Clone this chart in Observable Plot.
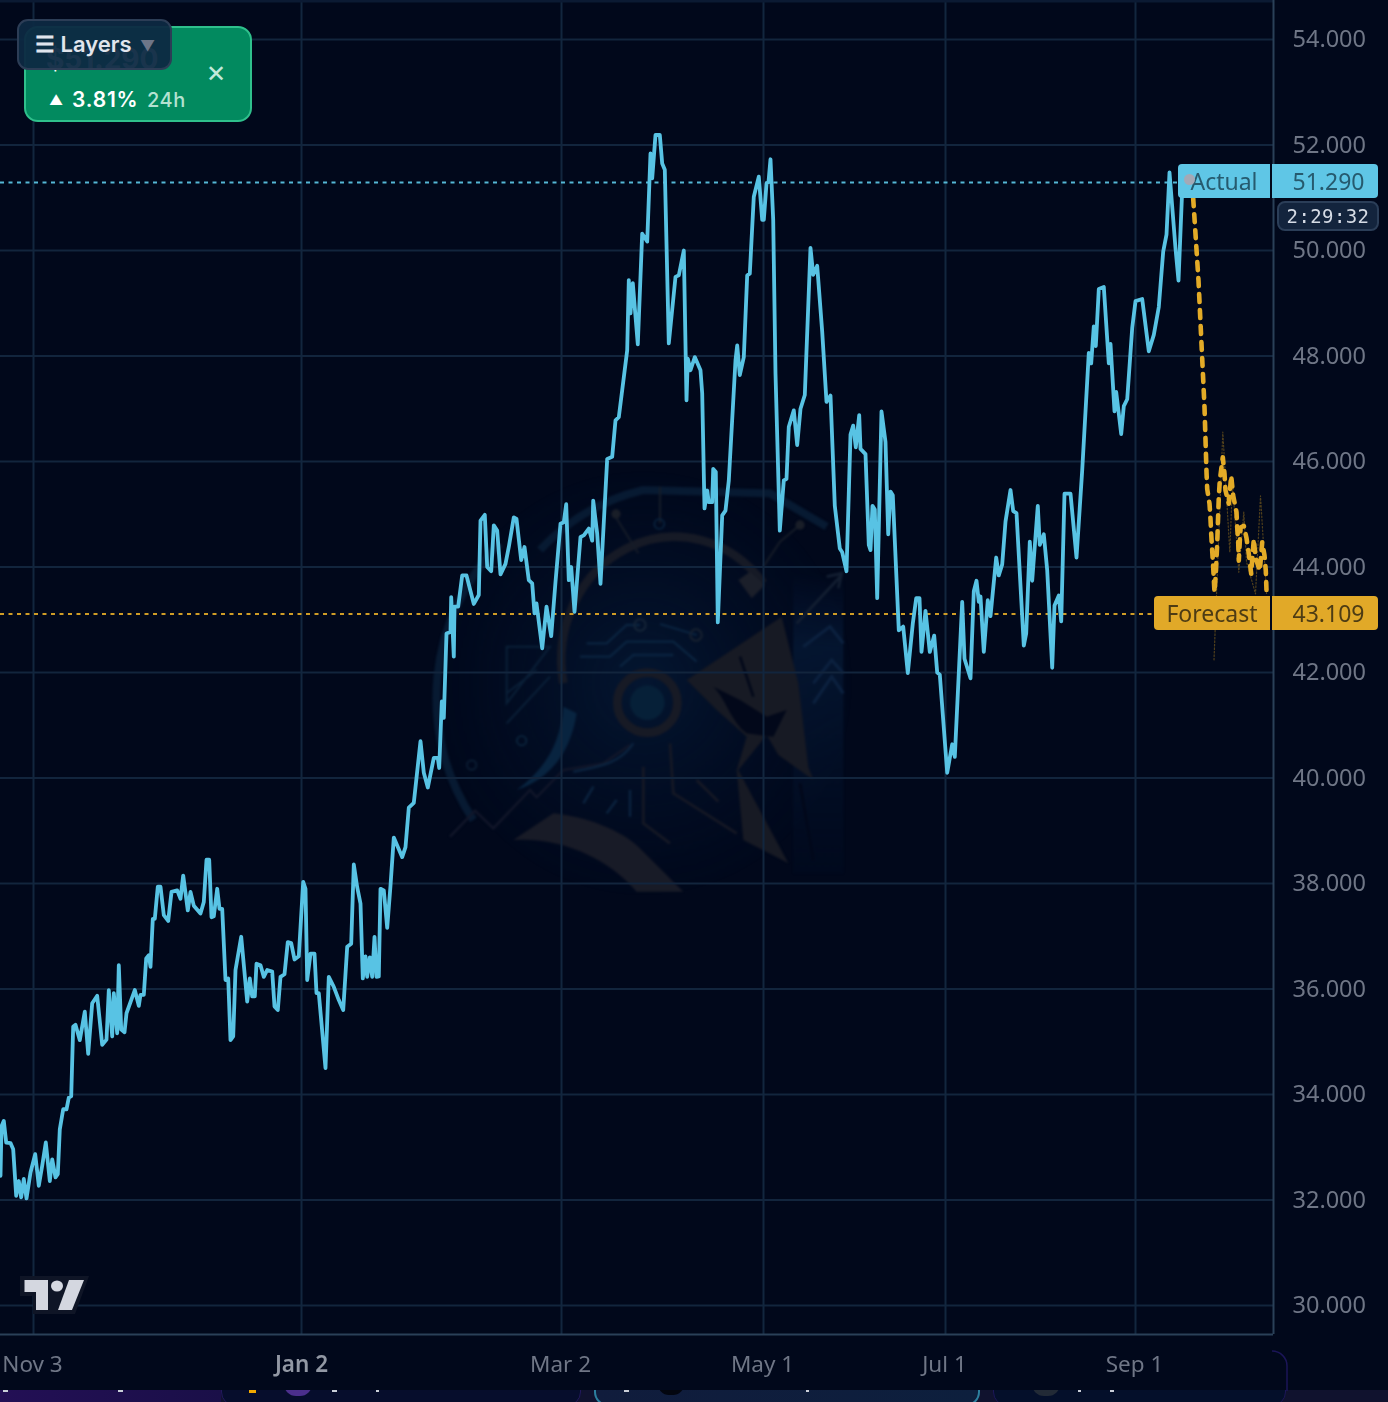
<!DOCTYPE html>
<html>
<head>
<meta charset="utf-8">
<script src="https://cdn.jsdelivr.net/npm/d3@7"></script>
<script src="https://cdn.jsdelivr.net/npm/@observablehq/plot@0.6"></script>
<style>
html,body{margin:0;padding:0;background:#01081b;}
#stage{position:relative;width:1388px;height:1402px;overflow:hidden;background:#01081b;font-family:"Noto Sans",sans-serif;}
#stage>*{position:absolute;}
#watermark{left:430px;top:470px;width:420px;height:430px;filter:blur(.8px);}
#chart{left:0;top:0;}
#chart svg{display:block;filter:blur(.55px);}
.tag{box-sizing:border-box;display:flex;align-items:center;justify-content:center;font-size:23px;filter:blur(.4px);}
#strip{left:0;top:1390px;width:1388px;height:12px;overflow:hidden;background:#10122e;}
#strip>*{position:absolute;}
.card{top:-14px;height:30px;box-sizing:border-box;border-radius:14px;}
.tick{top:0;height:2px;width:5px;background:#c9ced8;}
</style>
</head>
<body>
<div id="stage">
<svg id="watermark" viewBox="0 0 1260 1290" fill="none">
  <defs>
    <radialGradient id="glow" cx=".5" cy=".5" r=".55">
      <stop offset="0" stop-color="#051a36" stop-opacity=".8"/>
      <stop offset="1" stop-color="#03102a" stop-opacity="0"/>
    </radialGradient>
    <linearGradient id="band" x1="0" y1="0" x2="0" y2="1">
      <stop offset="0" stop-color="#06183a" stop-opacity="0"/>
      <stop offset=".25" stop-color="#061a36" stop-opacity=".75"/>
      <stop offset="1" stop-color="#03112a" stop-opacity=".2"/>
    </linearGradient>
  </defs>
  <ellipse cx="640" cy="640" rx="620" ry="630" fill="url(#glow)"/>
  <rect x="1090" y="310" width="150" height="900" fill="url(#band)"/>
  <path d="M130 1050 A660 660 0 0 1 210 220 M330 240 A620 620 0 0 1 640 60 L1020 70 1190 170" stroke="#071a32" stroke-width="24"/>
  <path d="M400 640 A340 370 0 0 1 1000 340" stroke="#161a26" stroke-width="26"/>
  <path d="M925 330 L960 305 1005 345 965 385Z" fill="#1b1f2a"/>
  <circle cx="652" cy="698" r="90" stroke="#171a25" stroke-width="26"/>
  <circle cx="652" cy="698" r="52" fill="#062038"/>
  <path d="M770 630 L1055 440 1105 640 1135 890 1150 930 1045 855 1010 795 925 900 1075 1180 940 1110 920 900 950 800 860 720Z" fill="#171a24"/>
  <path d="M850 650 C890 690 900 750 950 790 L1030 800 1070 720 1010 740 930 690Z" fill="#02081a"/>
  <path d="M930 560 L970 680 M1110 940 L1150 1170" stroke="#02081a" stroke-width="8"/>
  <path d="M400 710 L440 730 C420 860 350 930 260 960 C340 900 390 830 400 710Z" fill="#082440"/>
  <path d="M250 1110 L370 1030 C470 1040 570 1080 625 1130 L760 1265 L620 1265 C540 1170 400 1100 250 1110Z" fill="#181b27"/>
  <path d="M60 1100 L135 1022 190 1075 300 960 320 982 400 900 520 880 600 825" stroke="#12172a" stroke-width="7"/>
  <path d="M470 520 L530 520 590 465 630 465 M450 560 L540 560 590 515 730 515 800 575 M570 590 L610 555 730 555 M690 462 L800 495" stroke="#0a2440" stroke-width="7"/>
  <circle cx="630" cy="465" r="17" stroke="#152538" stroke-width="6"/>
  <circle cx="798" cy="495" r="17" stroke="#182230" stroke-width="6"/>
  <circle cx="275" cy="812" r="14" stroke="#0c2840" stroke-width="5"/>
  <circle cx="125" cy="885" r="14" stroke="#0c2036" stroke-width="5"/>
  <path d="M230 760 L360 620 M230 670 L320 600 M230 530 L360 530 230 700Z" stroke="#0a2038" stroke-width="6"/>
  <path d="M640 890 L640 1060 720 1120 M720 820 L730 970 920 1090 M800 930 L865 995" stroke="#161925" stroke-width="8"/>
  <path d="M430 905 C510 890 570 880 610 820 M460 1000 L490 950 M560 990 L530 1030 M600 960 L600 1040" stroke="#0b2440" stroke-width="7"/>
  <path d="M1150 700 L1205 620 1240 670 M1120 530 L1200 470 1240 520 M1150 640 L1205 570 1240 610" stroke="#0c2240" stroke-width="9"/>
  <path d="M1100 460 L1235 315 M1190 320 L1235 310 1225 355" stroke="#131f32" stroke-width="8"/>
  <path d="M550 130 L625 250 M690 50 L690 160 M1110 165 L1050 215 1000 290" stroke="#151c28" stroke-width="6"/>
  <circle cx="558" cy="132" r="14" fill="#191e28"/>
  <circle cx="1110" cy="165" r="14" fill="#191e28"/>
  <circle cx="688" cy="162" r="15" stroke="#0a2440" stroke-width="5"/>
</svg>
<div id="chart"></div>

<!-- bottom strip of page cards -->
<div id="strip">
  <div style="left:0;top:0;width:221px;height:12px;background:linear-gradient(90deg,#230f55,#1a0f48)"></div>
  <div class="card" style="left:221px;width:360px;background:#060d2c;border:1px solid #22185c"></div>
  <div class="card" style="left:594px;width:386px;background:linear-gradient(90deg,#101c3c,#0d1f3d);border:2px solid #2c7f9e"></div>
  <div class="card" style="left:993px;width:293px;background:#040f2a;border:1px solid #1c1658"></div>
  <div style="left:284px;top:-6px;width:28px;height:12px;border-radius:0 0 14px 14px;background:#4b2f8c"></div>
  <div style="left:1032px;top:-6px;width:28px;height:12px;border-radius:0 0 14px 14px;background:#222a36"></div>
  <div style="left:658px;top:-6px;width:26px;height:11px;border-radius:0 0 13px 13px;background:#03060f"></div>
  <div style="left:249px;top:0;width:7px;height:3px;background:#f2a900"></div>
  <div class="tick" style="left:3px"></div><div class="tick" style="left:118px"></div><div class="tick" style="left:332px"></div>
  <div class="tick" style="left:376px;width:3px"></div><div class="tick" style="left:624px"></div><div class="tick" style="left:806px;width:3px"></div>
  <div class="tick" style="left:1078px;width:3px"></div><div class="tick" style="left:1110px;width:4px"></div>
</div>
<svg style="left:1260px;top:1345px" width="40" height="46" fill="none"><path d="M12 6 A15 15 0 0 1 27 21 V46" stroke="#1b1558" stroke-width="1.5"/></svg>

<!-- TradingView mark -->
<svg style="left:0;top:1260px" width="110" height="70">
  <path d="M20 16H89L75 54H33V36H20Z" fill="#0f1526"/>
  <path d="M24.5 20H48V50H36V32H24.500Z" fill="#d4d7e0"/>
  <ellipse cx="57" cy="26" rx="6" ry="5.500" fill="#d4d7e0"/>
  <path d="M69 20H84L72 50H58Z" fill="#d4d7e0"/>
</svg>

<!-- price tags -->
<div class="tag" style="left:1178px;top:164px;width:92px;height:34px;background:#5fc6e6;color:#265a6e;border-radius:4px 0 0 4px;">Actual</div>
<div class="tag" style="left:1272px;top:164px;width:106px;height:34px;background:#5fc6e6;color:#265a6e;border-radius:0 4px 4px 0;padding-left:7px">51.290</div>
<div style="left:1184px;top:174px;width:11px;height:11px;border-radius:50%;background:#a4a9b6"></div>
<div class="tag" style="left:1277px;top:201px;width:102px;height:30px;background:#13243d;border:2px solid #2b3e58;border-radius:8px;color:#d5dbe5;font-family:'DejaVu Sans Mono',monospace;font-size:19px;letter-spacing:.4px">2:29:32</div>
<div class="tag" style="left:1154px;top:596px;width:116px;height:34px;background:#e1a928;color:#4d3c14;border-radius:4px 0 0 4px;">Forecast</div>
<div class="tag" style="left:1272px;top:596px;width:106px;height:34px;background:#e1a928;color:#4d3c14;border-radius:0 4px 4px 0;padding-left:7px">43.109</div>

<!-- ticker card and layers button -->
<div style="left:24px;top:26px;width:228px;height:96px;box-sizing:border-box;background:#028a5f;border:2px solid #2fc08c;border-radius:14px"></div>
<div style="left:46px;top:42px;font:700 28px Inter,sans-serif;color:#fff;white-space:nowrap">$51.290</div>
<div style="left:49px;top:91px;font:400 14px Inter,sans-serif;color:#fff;white-space:nowrap">▲</div>
<div style="left:72px;top:87px;font:600 21px Inter,sans-serif;color:#fff;letter-spacing:.8px;white-space:nowrap">3.81%</div>
<div style="left:147px;top:88px;font:500 20px Inter,sans-serif;color:#b3e2d1;letter-spacing:.6px;white-space:nowrap">24h</div>
<div style="left:206px;top:61px;font:400 24px Inter,sans-serif;color:#c2e9da;line-height:26px">✕</div>
<div style="left:17px;top:19px;width:155px;height:51px;box-sizing:border-box;background:rgba(13,41,66,.95);border:2px solid #2c3d56;border-radius:11px"></div>
<div style="left:35px;top:31px;font:600 22px Inter,sans-serif;color:#e0e5ed;white-space:nowrap">☰ Layers</div>
<div style="left:140px;top:36px;font:400 15px Inter,sans-serif;color:#6d7688">▼</div>
</div>

<script>
const barIndex = [0,1,3.3,5.7,10,12.7,15.7,18.3,20.7,23.3,26,30,34.7,38.3,41.7,45.3,49.3,51.7,55,57.3,59.3,62.7,66,68.3,70.7,72.7,75,79.3,84.3,87.7,91.7,96.7,101.7,106,108.3,111.7,113.3,116.7,118.3,120.7,124,126,134.3,138.3,140,143.3,145.7,148.3,150,152.3,154.3,157.3,160,163.3,167.7,171,176.7,180,182.7,187.3,190,193.3,200,203.3,206,208.7,211,213.3,216.7,219,221.7,225,227.7,230,232.7,235,240.7,246.7,249.3,251.7,254.3,256,260,263.3,266.7,271.7,274,277.3,280,284,287.3,290.7,294,298.3,302.7,305,306.7,310,314,316,318.3,325,328.3,333.3,338.3,342.7,346.7,350.7,353.3,356.7,360,362.3,365,366.7,369.3,371.7,374,376,378.3,380,383.3,386.7,390,393.3,396.7,401.7,405,408.3,413.3,420,423.3,427.3,433.3,437.3,438.7,441.3,443.3,446,450,450.7,453.3,454,457.7,461.7,466,473.3,478.3,480,484.3,486.7,490.7,493.3,496.7,500,505,508.3,513.3,516,520.7,524,528.3,531.7,534,536,541.7,546,550.7,555,560,563.3,565.7,568.3,570.7,574,580,583.3,588.3,591.7,592.7,596.7,600,606.7,611.7,615,618.3,626.7,628.3,630,632.3,637.3,641.7,646.7,650,651.7,655,659.3,661.7,664.3,668.3,675,678.3,683.3,686,687.3,690,694.3,700,701.7,704,706.7,708.3,711.7,712.7,715.3,717.3,721.7,725,728.3,735,736.7,739.3,743.3,746.7,749.3,753.3,758.3,761.7,763.3,766,768,770,772.7,775,779.3,783.3,786,788.3,793.3,796.7,800,804.3,810,812.7,816.7,821.7,826,830,834.3,839.3,841.7,846,850,852.7,855.3,858.7,860,865,868.3,870,872,874.3,876.7,881,885,887.7,890,892.3,898.3,902.7,907.3,912.3,915.7,919,921,925,929.3,933.7,936.7,939.3,946.7,951.7,954.3,961.7,964,970,973.3,976,978.3,980,983.3,987.3,990,995.7,998.3,1001.7,1005,1010,1012.7,1016,1023.3,1025.7,1029.3,1031.7,1037.3,1039.3,1043.3,1046.7,1051.7,1054,1058.3,1060.7,1064,1070,1076,1081.7,1088.3,1090.7,1093.3,1095.3,1098.3,1103.3,1108.3,1110,1114,1115.7,1120.7,1123.3,1126.7,1131.7,1135,1141.7,1148.3,1153.3,1158.3,1162.7,1166,1169,1175,1178,1182];
const actualPrice = [32.46,33.40,33.50,33.09,33.08,32.96,32.08,32.36,32.05,32.40,32.03,32.52,32.87,32.27,32.65,33.09,32.36,32.77,32.43,32.49,33.34,33.72,33.72,33.94,33.97,35.29,35.32,35.03,35.57,34.77,35.73,35.87,34.94,35.04,35.98,35.10,35.92,35.16,36.45,35.23,35.18,35.54,35.98,35.68,35.89,35.89,36.58,36.64,36.42,37.33,37.33,37.94,37.94,37.40,37.29,37.84,37.87,37.71,38.15,37.49,37.84,37.58,37.43,37.65,38.45,38.45,37.36,37.38,37.90,37.52,37.52,36.17,36.20,35.03,35.10,36.36,36.99,35.76,36.20,35.86,35.86,36.48,36.45,36.23,36.36,36.33,35.67,35.60,36.23,36.28,36.89,36.87,36.56,36.62,38.03,37.90,36.17,36.67,36.67,35.92,35.92,34.50,36.23,36.04,35.79,35.60,36.80,36.86,38.36,37.93,37.62,36.20,36.62,36.23,36.60,36.23,36.99,36.23,36.24,37.90,37.87,37.16,37.96,38.87,38.72,38.50,38.69,39.44,39.53,40.70,40.10,39.82,40.38,40.38,40.19,41.45,41.14,42.74,42.77,43.43,42.30,43.25,43.25,43.84,43.84,43.30,43.47,44.88,44.99,44.00,43.92,44.79,44.69,43.86,44.06,44.38,44.94,44.91,44.13,44.38,43.75,43.69,43.12,43.31,42.46,43.25,42.69,43.72,44.82,44.85,45.19,43.75,44.00,43.15,44.57,44.60,44.73,44.50,45.26,44.63,43.68,46.05,46.09,46.78,46.84,48.11,49.44,48.81,49.38,48.22,50.32,50.17,51.84,51.37,52.19,52.19,51.65,51.53,48.24,49.50,49.53,50.00,47.16,47.95,47.73,47.98,47.73,47.29,45.11,45.45,45.23,45.23,45.86,45.80,42.95,44.98,45.07,45.64,47.92,48.20,47.64,47.98,49.53,49.56,51.02,51.40,50.58,50.58,51.27,51.30,51.73,50.58,47.67,44.69,45.64,45.67,46.66,46.97,46.31,47.00,47.26,50.05,49.54,49.71,48.46,47.13,47.25,45.16,44.35,44.28,43.92,46.51,46.68,46.27,46.88,46.24,46.14,44.42,44.32,45.16,45.09,43.41,46.95,46.37,44.62,45.43,45.36,42.80,42.87,41.99,42.93,43.41,43.41,42.39,43.17,42.39,42.70,42.00,41.96,40.10,40.64,40.40,43.34,42.26,41.89,43.54,43.74,43.34,43.44,42.39,43.37,43.07,44.18,43.84,44.05,44.86,45.46,45.06,45.02,42.51,42.74,44.48,43.74,45.16,44.42,44.62,43.94,42.09,43.27,43.46,42.97,45.39,45.39,44.18,45.83,48.06,47.86,48.56,48.19,49.27,49.31,47.86,48.23,46.95,47.32,46.52,47.05,47.18,48.53,49.04,49.08,48.09,48.40,48.93,49.98,50.30,51.48,50.04,49.43,51.29];

const forecastBar = [1190,1192.7,1198,1204,1206,1206.7,1209,1210,1210.7,1211.7,1212.7,1214,1215.3,1216.7,1217.7,1218.3,1219.3,1222.3,1224,1225,1228.3,1230.7,1232.7,1236,1236.7,1237.7,1238.3,1240,1243.3,1246,1248.3,1250.7,1253.3,1255,1259.3,1261.7,1264,1265.3,1266];
const forecastPrice = [51.29,50.99,49.43,47.03,45.80,45.48,45.20,44.91,44.63,44.31,44.00,43.52,43.87,44.44,45.00,45.32,45.64,46.08,45.77,45.45,45.20,45.73,45.35,45.04,44.75,44.47,44.12,44.75,44.78,44.55,44.25,43.87,44.53,44.18,43.93,44.47,44.22,43.93,43.55];
const rangeBar = [1213.5,1222.3,1229.3,1232,1238.3,1243.3,1246,1255,1260,1266];
const rangePrice = [42.24,46.56,44.28,45.60,43.90,45.04,44.10,43.49,45.35,43.50];

const priceTicks = [30,32,34,36,38,40,42,44,46,48,50,52,54];
const tickBars = [33,301,561,763,945,1135];
const tickLabels = ["Nov 3","Jan 2","Mar 2","May 1","Jul 1","Sep 1"];
const lastActual = 51.290;
const lastForecast = 43.109;

const labelOf = d => tickLabels[tickBars.indexOf(d)];
const plot = Plot.plot({
  width: 1388, height: 1402,
  marginLeft: 0, marginRight: 115, marginTop: 0, marginBottom: 68,
  x: {domain: [0, 1273]},
  y: {domain: [29.45, 54.74]},
  style: {background: "transparent", fontFamily: "'Noto Sans',sans-serif", overflow: "visible"},
  marks: [
    Plot.ruleY(priceTicks, {stroke: "#12253d", strokeWidth: 2}),
    Plot.ruleX(tickBars, {stroke: "#12263e", strokeWidth: 2}),
    Plot.ruleY([54.74], {stroke: "#0b1a33", strokeWidth: 4}),
    Plot.ruleY([29.45], {stroke: "#2a4058", strokeWidth: 2}),
    Plot.ruleX([1273], {stroke: "#2a4058", strokeWidth: 2}),
    Plot.ruleY([lastActual], {x2: 1178, stroke: "#55b7d6", strokeWidth: 2, strokeDasharray: "4 4.500"}),
    Plot.ruleY([lastForecast], {x2: 1154, stroke: "#cf9c26", strokeWidth: 2, strokeDasharray: "4 4.500"}),
    Plot.line(rangePrice, {x: rangeBar, y: rangePrice, stroke: "#4f3f1c", strokeWidth: 1.2, strokeDasharray: "1.500 2"}),
    Plot.line(actualPrice, {x: barIndex, y: actualPrice, stroke: "#58c3e4", strokeWidth: 3.8}),
    Plot.line(forecastPrice, {x: forecastBar, y: forecastPrice, stroke: "#e3ab27", strokeWidth: 4.6, strokeDasharray: "8 8"}),
    Plot.axisY(priceTicks, {anchor: "right", tickSize: 0, tickPadding: 19, dy: 0, tickFormat: d3.format(".3f"), fontSize: 23.5, fill: "#6f7686", label: null}),
    Plot.axisX(tickBars.filter(d => d !== 301), {anchor: "bottom", tickSize: 0, tickPadding: 22, dx: -1, tickFormat: labelOf, fontSize: 22.5, fill: "#6f7686", label: null}),
    Plot.axisX([301], {anchor: "bottom", tickSize: 0, tickPadding: 22, tickFormat: labelOf, fontSize: 22.5, fontWeight: 600, fill: "#9298a4", label: null})
  ]
});
document.getElementById("chart").append(plot);
</script>
</body>
</html>
